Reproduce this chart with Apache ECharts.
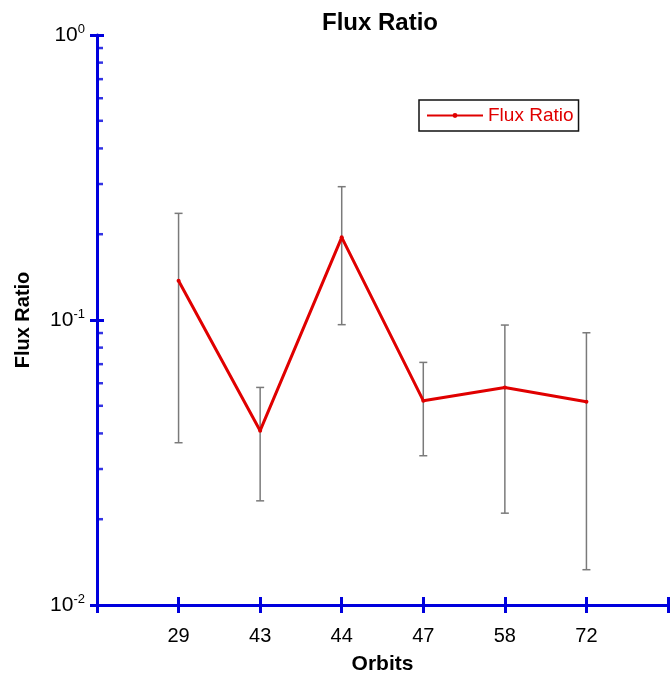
<!DOCTYPE html>
<html>
<head>
<meta charset="utf-8">
<script src="https://cdn.jsdelivr.net/npm/echarts@6/dist/echarts.min.js"></script>
<style>html,body{margin:0;padding:0;background:#fff;}#c{width:670px;height:674px;}</style>
</head>
<body>
<div id="c"></div>
<script>
const categories = ['29', '43', '44', '47', '58', '72'];
const fluxRatio = [0.1374, 0.0409, 0.1950, 0.0521, 0.0580, 0.0517];
const errUpper = [0.2367, 0.0580, 0.2936, 0.0710, 0.0960, 0.0902];
const errLower = [0.0371, 0.0232, 0.0963, 0.0334, 0.0210, 0.0133];
const minorTickValues = [0.02, 0.03, 0.04, 0.05, 0.06, 0.07, 0.08, 0.09,
                         0.2, 0.3, 0.4, 0.5, 0.6, 0.7, 0.8, 0.9];

const AX = '#0000dd';
const FONT = '"Liberation Sans", Arial, sans-serif';

const lineData = fluxRatio.map((v, i) => [i + 1, v]);
const errData = fluxRatio.map((v, i) => [i + 1, errLower[i], errUpper[i]]);
const minorData = minorTickValues.map(v => [0, v]);

const chart = echarts.init(document.getElementById('c'), null, {renderer: 'canvas'});
chart.setOption({
  animation: false,
  backgroundColor: '#fff',
  title: {
    text: 'Flux Ratio',
    left: 322, top: 11,
    padding: 0,
    textStyle: {fontFamily: FONT, fontSize: 24, fontWeight: 'bold', color: '#000'}
  },
  legend: {
    data: ['Flux Ratio'],
    left: 419, top: 100,
    padding: [6, 5, 6, 7],
    borderColor: '#111', borderWidth: 1.5,
    itemWidth: 56, itemHeight: 6, itemGap: 6,
    lineStyle: {width: 2},
    textStyle: {fontFamily: FONT, fontSize: 19, color: '#e00000'}
  },
  grid: {left: 97, right: 2, top: 35, bottom: 69, containLabel: false, outerBoundsMode: 'none'},
  xAxis: [{
    type: 'value', min: 0, max: 7, interval: 1,
    name: 'Orbits', nameLocation: 'middle', nameGap: 49,
    nameTextStyle: {fontFamily: FONT, fontSize: 21, fontWeight: 'bold', color: '#000'},
    axisLine: {show: true, lineStyle: {color: AX, width: 3}},
    axisTick: {show: true, inside: false, length: 8, lineStyle: {color: AX, width: 3}},
    axisLabel: {
      margin: 21, fontFamily: FONT, fontSize: 20, color: '#000',
      formatter: v => (v >= 1 && v <= categories.length) ? categories[v - 1] : ''
    },
    splitLine: {show: false}
  }, {
    type: 'value', min: 0, max: 7, interval: 1, position: 'bottom', offset: 0,
    axisLine: {show: false},
    axisTick: {show: true, inside: true, length: 8, lineStyle: {color: AX, width: 3}},
    axisLabel: {show: false},
    splitLine: {show: false}
  }],
  yAxis: [{
    type: 'log', min: 0.01, max: 1, logBase: 10,
    name: 'Flux Ratio', nameLocation: 'middle', nameGap: 64,
    nameTextStyle: {fontFamily: FONT, fontSize: 20, fontWeight: 'bold', color: '#000'},
    axisLine: {show: true, lineStyle: {color: AX, width: 3}},
    axisTick: {show: true, inside: false, length: 7, lineStyle: {color: AX, width: 3}},
    axisLabel: {
      margin: 12,
      formatter: v => '{b|10}{s|' + Math.round(Math.log10(v)) + '}',
      rich: {
        b: {fontFamily: FONT, fontSize: 21, color: '#000'},
        s: {fontFamily: FONT, fontSize: 13, color: '#000', padding: [0, 0, 12, 0]}
      }
    },
    splitLine: {show: false}
  }, {
    type: 'log', min: 0.01, max: 1, logBase: 10, position: 'left', offset: 0,
    axisLine: {show: false},
    axisTick: {show: true, inside: true, length: 7, lineStyle: {color: AX, width: 3}},
    axisLabel: {show: false},
    splitLine: {show: false}
  }],
  series: [{
    name: 'minorTicks', type: 'scatter', data: minorData,
    symbol: 'rect', symbolSize: [6, 2.5], symbolOffset: [3, 0],
    itemStyle: {color: AX}, silent: true, clip: false, z: 10
  }, {
    name: 'errorBars', type: 'custom', data: errData, z: 3, silent: true,
    renderItem: (params, api) => {
      const x = api.value(0);
      const lo = api.coord([x, api.value(1)]);
      const hi = api.coord([x, api.value(2)]);
      const w = 4;
      const st = {stroke: '#7a7a7a', lineWidth: 1.5};
      return {type: 'group', children: [
        {type: 'line', shape: {x1: lo[0], y1: lo[1], x2: hi[0], y2: hi[1]}, style: st},
        {type: 'line', shape: {x1: lo[0] - w, y1: lo[1], x2: lo[0] + w, y2: lo[1]}, style: st},
        {type: 'line', shape: {x1: hi[0] - w, y1: hi[1], x2: hi[0] + w, y2: hi[1]}, style: st}
      ]};
    }
  }, {
    name: 'Flux Ratio', type: 'line', data: lineData, z: 5,
    symbol: 'circle', symbolSize: 4, showSymbol: true,
    lineStyle: {color: '#e00000', width: 3},
    itemStyle: {color: '#e00000'}
  }]
});
</script>
</body>
</html>
